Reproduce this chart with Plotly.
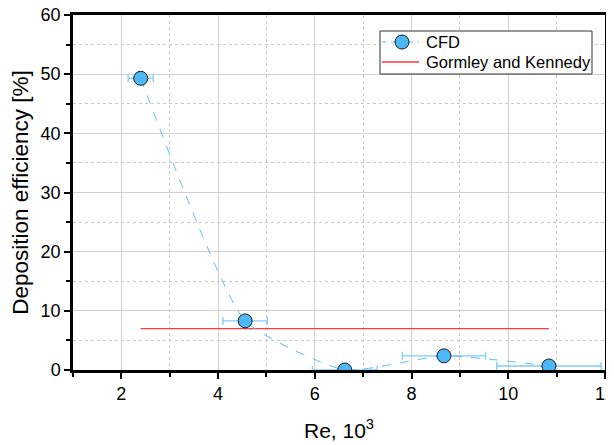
import plotly.graph_objects as go

re_vals = [2.40, 4.56, 6.62, 8.67, 10.84]
eff_vals = [49.3, 8.3, 0.0, 2.4, 0.68]
re_err = [0.26, 0.46, 0.67, 0.86, 1.08]

gk_x = [2.40, 10.84]
gk_y = [7.0, 7.0]

legend_names = ["CFD", "Gormley and Kennedy"]

FONT = "Liberation Sans, Arial"
CFD_LINE = "#5cbff5"
CFD_FILL = "#4db8f8"
GK_COLOR = "#ff3b3b"

fig = go.Figure()
fig.add_trace(go.Scatter(
    x=gk_x, y=gk_y, mode="lines", name=legend_names[1],
    line=dict(color=GK_COLOR, width=1.3), showlegend=False,
))
fig.add_trace(go.Scatter(
    x=re_vals, y=eff_vals, mode="lines+markers", name=legend_names[0],
    line=dict(color=CFD_LINE, width=1, dash="dash", shape="spline", smoothing=0.5),
    marker=dict(size=14, color=CFD_FILL, line=dict(color="#1a1a1a", width=1)),
    error_x=dict(type="data", array=re_err, visible=True, color="#7fcdf8",
                 thickness=1.3, width=4),
    showlegend=False,
))

axis_common = dict(
    showline=True, linecolor="black", linewidth=2.5, mirror=True,
    ticks="outside", ticklen=6, tickwidth=2, tickcolor="black",
    showgrid=True, gridcolor="#d0d0d0", gridwidth=1,
    zeroline=False, automargin=False, ticklabeloverflow="allow",
    tickfont=dict(family=FONT, size=18, color="black"),
)

fig.update_xaxes(
    **axis_common, range=[1, 12], dtick=2, tick0=0,
    minor=dict(dtick=1, ticks="outside", ticklen=4, tickcolor="black",
               showgrid=True, gridcolor="#c8c8c8", griddash="dot"),
    title=dict(text="Re, 10<sup>3</sup>", font=dict(family=FONT, size=21, color="black"), standoff=20),
)
fig.update_yaxes(
    **axis_common, range=[0, 60], dtick=10,
    minor=dict(dtick=5, ticks="outside", ticklen=4, tickcolor="black",
               showgrid=True, gridcolor="#c8c8c8", griddash="dot"),
    title=dict(text="Deposition efficiency [%]", font=dict(family=FONT, size=22.5, color="black"), standoff=10),
)

# Custom legend (paper coordinates), matching the reference box layout
W_PLOT, H_PLOT = 532.0, 355.0
def px(x):
    return (x - 65) / W_PLOT
def py(y):
    return 1 - (y - 7) / H_PLOT

shapes = [
    dict(type="rect", xref="paper", yref="paper",
         x0=px(372), x1=px(584), y0=py(66), y1=py(23),
         line=dict(color="#333333", width=1), fillcolor="white", layer="above"),
    dict(type="line", xref="paper", yref="paper",
         x0=px(374), x1=px(411), y0=py(34), y1=py(34),
         line=dict(color=CFD_LINE, width=1, dash="4px,5px"), layer="above"),
    dict(type="circle", xref="paper", yref="paper",
         x0=px(394 - 7), x1=px(394 + 7), y0=py(34 + 7), y1=py(34 - 7),
         line=dict(color="#1a1a1a", width=1), fillcolor=CFD_FILL, layer="above"),
    dict(type="line", xref="paper", yref="paper",
         x0=px(374), x1=px(411), y0=py(54), y1=py(54),
         line=dict(color=GK_COLOR, width=1.3), layer="above"),
]
annotations = [
    dict(xref="paper", yref="paper", x=px(416), y=py(34), text=legend_names[0],
         showarrow=False, xanchor="left", yanchor="middle",
         font=dict(family=FONT, size=16.5, color="black")),
    dict(xref="paper", yref="paper", x=px(416), y=py(54), text=legend_names[1],
         showarrow=False, xanchor="left", yanchor="middle",
         font=dict(family=FONT, size=16.5, color="black")),
]

fig.update_layout(
    width=606, height=437,
    margin=dict(l=65, r=9, t=7, b=75),
    plot_bgcolor="white", paper_bgcolor="white",
    showlegend=False,
    shapes=shapes, annotations=annotations,
)

fig.write_html("out.html")
